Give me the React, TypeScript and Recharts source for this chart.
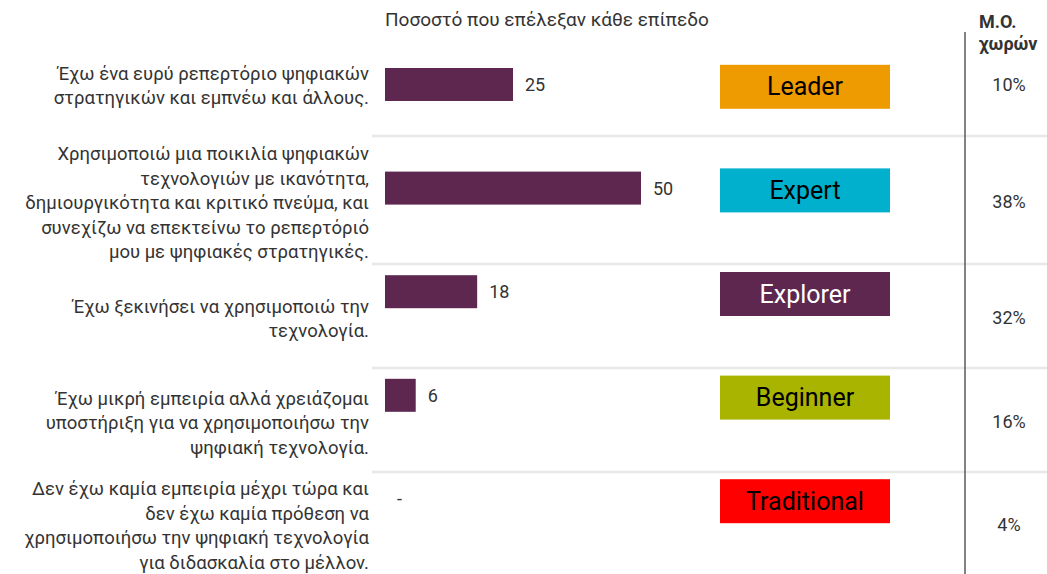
import React from "react";
import { BarChart, Bar, XAxis, YAxis } from "recharts";

// Δηλώσεις αυτοαξιολόγησης (μία γραμμή κειμένου ανά στοιχείο)
const statements: string[][] = [
  ["Έχω ένα ευρύ ρεπερτόριο ψηφιακών", "στρατηγικών και εμπνέω και άλλους."],
  [
    "Χρησιμοποιώ μια ποικιλία ψηφιακών",
    "τεχνολογιών με ικανότητα,",
    "δημιουργικότητα και κριτικό πνεύμα, και",
    "συνεχίζω να επεκτείνω το ρεπερτόριό",
    "μου με ψηφιακές στρατηγικές.",
  ],
  ["Έχω ξεκινήσει να χρησιμοποιώ την", "τεχνολογία."],
  [
    "Έχω μικρή εμπειρία αλλά χρειάζομαι",
    "υποστήριξη για να χρησιμοποιήσω την",
    "ψηφιακή τεχνολογία.",
  ],
  [
    "Δεν έχω καμία εμπειρία μέχρι τώρα και",
    "δεν έχω καμία πρόθεση να",
    "χρησιμοποιήσω την ψηφιακή τεχνολογία",
    "για διδασκαλία στο μέλλον.",
  ],
];
const levels = ["Leader", "Expert", "Explorer", "Beginner", "Traditional"];
const shares = [25, 50, 18, 6, 0];
const countryAvg = ["10%", "38%", "32%", "16%", "4%"];

const data = levels.map((level, i) => ({ level, share: shares[i] }));

const BAR = "#5e2750";
const TEXT = "#333333";
const FONT = "Roboto, 'Noto Sans', sans-serif";
const badgeStyle: Record<string, { bg: string; fg: string }> = {
  Leader: { bg: "#ed9b00", fg: "#000000" },
  Expert: { bg: "#00b0cc", fg: "#000000" },
  Explorer: { bg: "#5e2750", fg: "#ffffff" },
  Beginner: { bg: "#a8b400", fg: "#000000" },
  Traditional: { bg: "#ff0000", fg: "#000000" },
};

const W = 1047;
const H = 574;
// όρια γραμμών του πίνακα (layout)
const rowEdges = [30, 136, 264, 368, 472, 574];

function BadgeTick(props: any) {
  const { x, y, payload } = props;
  const s = badgeStyle[payload.value];
  const left = x - 185;
  return (
    <g>
      <rect x={left} y={y - 20} width={170} height={44} fill={s.bg} />
      <text
        x={left + 85}
        y={y + 2}
        textAnchor="middle"
        dominantBaseline="central"
        fill={s.fg}
        fontSize={25}
        fontFamily={FONT}
      >
        {payload.value}
      </text>
    </g>
  );
}

// ορθογώνιο μπάρας + ετικέτα τιμής (και για μηδενικές τιμές "-")
function BarWithValue(props: any) {
  const { x, y, width, height, share } = props;
  return (
    <g>
      {width > 0 && <rect x={x} y={y} width={width} height={height} fill={BAR} />}
      <text
        x={x + Math.max(width, 0) + 12}
        y={y + height / 2}
        dominantBaseline="central"
        fill={TEXT}
        fontSize={18}
        fontFamily={FONT}
      >
        {share === 0 ? "-" : share}
      </text>
    </g>
  );
}

function TableLayer() {
  return (
    <svg width={W} height={H} style={{ position: "absolute", left: 0, top: 0 }}>
      <text x={385} y={26} fill={TEXT} fontSize={19} fontFamily={FONT}>
        Ποσοστό που επέλεξαν κάθε επίπεδο
      </text>
      <text x={979} y={28} fill={TEXT} fontSize={18} fontWeight="bold" fontFamily={FONT}>
        Μ.Ο.
      </text>
      <text x={979} y={50} fill={TEXT} fontSize={18} fontWeight="bold" fontFamily={FONT}>
        χωρών
      </text>
      {rowEdges.slice(1, -1).map((y) => (
        <line key={y} x1={372} x2={W} y1={y} y2={y} stroke="#e8e8e8" strokeWidth={2.5} />
      ))}
      <line x1={965} x2={965} y1={32} y2={H} stroke="#595959" strokeWidth={1.5} />
      {statements.map((lines, i) => {
        const mid = (rowEdges[i] + rowEdges[i + 1]) / 2 + 3;
        const lh = 24.5;
        const top = mid - ((lines.length - 1) * lh) / 2;
        return (
          <text
            key={i}
            textAnchor="end"
            fill={TEXT}
            fontSize={18.5}
            fontFamily={FONT}
            dominantBaseline="central"
          >
            {lines.map((t, j) => (
              <tspan key={j} x={369} y={top + j * lh}>
                {t}
              </tspan>
            ))}
          </text>
        );
      })}
      {countryAvg.map((v, i) => (
        <text
          key={i}
          x={1009}
          y={(rowEdges[i] + rowEdges[i + 1]) / 2 + 1}
          textAnchor="middle"
          dominantBaseline="central"
          fill={TEXT}
          fontSize={18}
          fontFamily={FONT}
        >
          {v}
        </text>
      ))}
    </svg>
  );
}

export default function App() {
  return (
    <div style={{ position: "relative", width: W, height: H, background: "#fff" }}>
      <style>{`body{margin:0}`}</style>
      <TableLayer />
      <div style={{ position: "absolute", left: 0, top: 0 }}>
        <BarChart
          width={W}
          height={H}
          data={data}
          layout="vertical"
          margin={{ top: 33, right: 0, bottom: 23, left: 385 }}
        >
          <XAxis type="number" domain={[0, 100]} hide />
          <YAxis
            type="category"
            dataKey="level"
            orientation="right"
            width={150}
            axisLine={false}
            tickLine={false}
            tick={<BadgeTick />}
          />
          <Bar
            dataKey="share"
            fill={BAR}
            barSize={33}
            shape={<BarWithValue />}
            isAnimationActive={false}
          />
        </BarChart>
      </div>
    </div>
  );
}
